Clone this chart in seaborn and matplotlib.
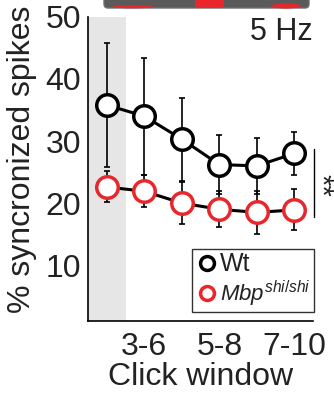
import numpy as np
import pandas as pd
import matplotlib
matplotlib.use('Agg')
import matplotlib.pyplot as plt
import seaborn as sns
from matplotlib.lines import Line2D
from matplotlib.patches import FancyBboxPatch, Ellipse

# data
windows = [1, 2, 3, 4, 5, 6]
tick_pos = [2, 4, 6]
tick_labels = ['3-6', '5-8', '7-10']
wt_mean = [35.8, 34.0, 30.3, 26.2, 26.0, 28.0]
wt_err = [10.0, 9.4, 6.7, 4.7, 4.5, 3.5]
mbp_mean = [22.6, 21.9, 20.0, 19.0, 18.5, 18.9]
mbp_err = [2.5, 2.6, 3.4, 2.9, 3.5, 3.3]

df = pd.DataFrame({
    'window': windows * 2,
    'value': wt_mean + mbp_mean,
    'group': ['Wt'] * 6 + ['Mbp'] * 6,
})

sns.set_style('white')
plt.rcParams['font.family'] = ['Liberation Sans', 'DejaVu Sans']
plt.rcParams['mathtext.fontset'] = 'custom'
plt.rcParams['mathtext.rm'] = 'Liberation Sans'
plt.rcParams['mathtext.it'] = 'Liberation Sans:italic'

fig = plt.figure(figsize=(3.34, 3.98), dpi=100)
ax = fig.add_axes([0.2635, 0.1935, 0.674, 0.764])

# shaded first window
ax.axvspan(0.5, 1.5, color='#e6e6e6', lw=0, zorder=0)

ax.errorbar(windows, wt_mean, yerr=wt_err, fmt='none', ecolor='black',
            elinewidth=1.2, capsize=2, capthick=1.2, zorder=2)
ax.errorbar(windows, mbp_mean, yerr=mbp_err, fmt='none', ecolor='black',
            elinewidth=1.2, capsize=2, capthick=1.2, zorder=2)

sns.lineplot(data=df, x='window', y='value', hue='group',
             palette={'Wt': 'black', 'Mbp': 'black'}, legend=False,
             ax=ax, lw=2.2, zorder=3)
ax.plot(windows, wt_mean, 'o', ms=15.5, mfc='white', mec='black', mew=2.5, zorder=4)
ax.plot(windows, mbp_mean, 'o', ms=15.5, mfc='white', mec='#e8262b', mew=2.5, zorder=4)

ax.set_xlim(0.5, 6.5)
ax.set_ylim(1, 50)
ax.set_yticks([10, 20, 30, 40, 50])
ax.set_xticks(tick_pos)
ax.set_xticklabels(tick_labels)
ax.tick_params(direction='in', length=4, width=1, labelsize=23, colors='#222222')
ax.tick_params(axis='x', pad=8)
ax.tick_params(axis='y', pad=5)
for s in ['top', 'right']:
    ax.spines[s].set_visible(False)
for s in ['left', 'bottom']:
    ax.spines[s].set_color('black')
    ax.spines[s].set_linewidth(1.2)

ax.set_xlabel('Click window', fontsize=23, color='#222222', labelpad=0)
ax.set_ylabel('% syncronized spikes', fontsize=23, color='#222222')
ax.yaxis.set_label_coords(-0.227, 0.533)

# significance
ax.plot([6.52, 6.52], [28.7, 17.8], color='black', lw=1, clip_on=False)
ax.text(6.72, 22.9, '**', rotation=-90, fontsize=21, ha='center', va='center',
        color='#222222', clip_on=False)

ax.text(6.5, 47.6, '5 Hz', fontsize=22, ha='right', va='center', color='#222222')

handles = [
    Line2D([], [], marker='o', ls='none', ms=10, mfc='white', mec='black', mew=2.5),
    Line2D([], [], marker='o', ls='none', ms=10, mfc='white', mec='#e8262b', mew=2.5),
]
leg = ax.legend(handles, ['Wt', r'$\mathit{Mbp}^{\mathit{shi/shi}}$'],
                loc='lower right', bbox_to_anchor=(1.004, 0.03), fontsize=16,
                frameon=True, fancybox=False, borderpad=0.15, handletextpad=0.1,
                handlelength=1.0, labelspacing=0.1, borderaxespad=0)
leg.get_frame().set_edgecolor('black')
leg.get_frame().set_linewidth(1)
for t in leg.get_texts():
    t.set_color('#222222')
leg.get_texts()[0].set_fontsize(18)

# clipped inset shape at top of the panel
top = fig.add_axes([103 / 334, 1 - 10 / 398, 207 / 334, 12 / 398])
top.set_xlim(0, 207)
top.set_ylim(0, 12)
top.axis('off')
top.add_patch(FancyBboxPatch((1, 2), 205, 14, boxstyle='round,pad=0,rounding_size=4',
                             fc='#5a5a5a', ec='#6e6e6e', lw=1))
top.add_patch(Ellipse((30, 3.2), 40, 3, fc='#e8262b', ec='none'))
top.add_patch(FancyBboxPatch((92, 2.5), 29, 11, boxstyle='round,pad=0,rounding_size=2',
                             fc='#e8262b', ec='none'))
top.add_patch(Ellipse((183, 4), 30, 5, fc='#e8262b', ec='none'))

fig.savefig('out.png', dpi=100)
